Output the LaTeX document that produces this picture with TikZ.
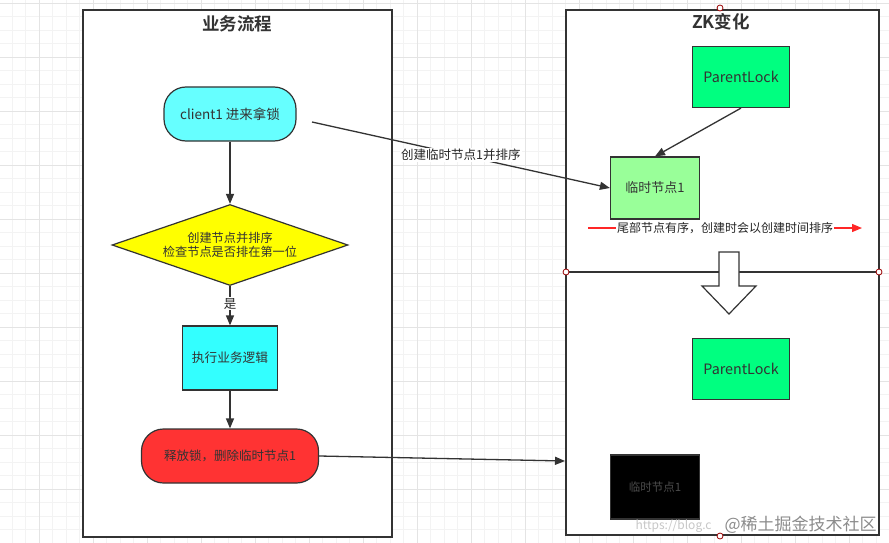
\documentclass[tikz,border=0pt]{standalone}
\usepackage{fontspec}
\setmainfont{Noto Sans CJK SC}
\newfontfamily\cjkb[BoldFont={Noto Sans CJK SC Bold}]{Noto Sans CJK SC}
\usetikzlibrary{shapes.geometric,arrows.meta}
\definecolor{edge}{HTML}{333333}
\definecolor{gridminor}{HTML}{F3F3F3}
\definecolor{gridmajor}{HTML}{E4E4E4}
\definecolor{cyanA}{HTML}{66FFFF}
\definecolor{cyanB}{HTML}{33FFFF}
\definecolor{redA}{HTML}{FF3333}
\definecolor{greenA}{HTML}{00FF80}
\definecolor{greenB}{HTML}{99FF99}
\definecolor{yel}{HTML}{FFFF00}
\tikzset{
  panel/.style={draw=edge, line width=1.4pt, fill=white},
  boxn/.style={draw=edge, line width=1.2pt, minimum width=#1, align=center, font=\fontsize{12}{15}\selectfont, text=edge},
  boxn/.default=90pt,
  conn/.style={draw=edge, line width=1.3pt, -{Triangle[length=10pt,width=8pt]}},
  lbl/.style={font=\fontsize{12.5}{14}\selectfont, text=black!85, fill=white, inner sep=1pt},
  handle/.style={draw=red!60!black, fill=white, line width=0.8pt, circle, inner sep=0pt, minimum size=6pt},
}
\begin{document}
\begin{tikzpicture}[x=1pt,y=-1pt]
\useasboundingbox (0,0) rectangle (889,543);
\fill[white] (0,0) rectangle (889,543);
% grid
\foreach \i in {0,...,66} {\draw[gridminor, line width=0.5pt] (\i*13.5-1.5,0) -- (\i*13.5-1.5,543);}
\foreach \i in {0,...,41} {\draw[gridminor, line width=0.5pt] (0,\i*13.5+3) -- (889,\i*13.5+3);}
\foreach \i in {0,...,16} {\draw[gridmajor, line width=0.7pt] (\i*54+39,0) -- (\i*54+39,543);}
\foreach \i in {0,...,10} {\draw[gridmajor, line width=0.7pt] (0,\i*54+3) -- (889,\i*54+3);}
% panels
\draw[panel] (83,10) rectangle (392,537);
\draw[panel] (566,10) rectangle (879,535);
\draw[edge, line width=1.4pt] (566,272) -- (879,272);
\node[font=\cjkb\bfseries\fontsize{17.5}{19}\selectfont, text=edge] (t1) at (237,24) {业务流程};
\node[font=\cjkb\bfseries\fontsize{17.5}{19}\selectfont, text=edge] (t2) at (721,22) {ZK变化};
% left flow
\node[boxn=132pt, minimum height=54pt, rounded corners=22pt, fill=cyanA, font=\fontsize{13.5}{15}\selectfont] (c1) at (230,114) {client1 进来拿锁};
\node[draw=edge, line width=1.2pt, diamond, fill=yel, minimum width=236pt, minimum height=81pt, aspect=2.9, inner sep=0pt, align=center, font=\fontsize{12.2}{14.5}\selectfont, text=edge] (d1) at (230,245) {创建节点并排序\\检查节点是否排在第一位};
\node[boxn=95pt, minimum height=64pt, fill=cyanB, font=\fontsize{12.7}{14}\selectfont] (e1) at (230,358) {执行业务逻辑};
\node[boxn=177pt, minimum height=54pt, rounded corners=22pt, fill=redA, font=\fontsize{12.5}{14}\selectfont] (r1) at (230,456) {释放锁，删除临时节点1};
\draw[conn] (c1) -- (d1.north);
\draw[conn] (d1.south) -- node[lbl, pos=0.45]{是} (e1);
\draw[conn] (e1) -- (r1);
% right top
\node[boxn=97pt, minimum height=61pt, fill=greenA, font=\fontsize{14.3}{16}\selectfont] (p1) at (741,77) {ParentLock};
\node[boxn=89pt, minimum height=62pt, fill=greenB, font=\fontsize{13}{15}\selectfont] (n1) at (655,188) {临时节点1};
\draw[conn] (p1.south) -- (n1.north);
\coordinate (s1) at (312,122);
\draw[conn] (s1) -- node[lbl, pos=0.5]{创建临时节点1并排序} (n1.west |- 0,188);
\coordinate (ra) at (588,228);
\coordinate (rb) at (862,228);
\draw[red!85!white, line width=1.3pt, -{Triangle[length=10pt,width=8pt]}] (ra) -- node[lbl, pos=0.5, font=\fontsize{12}{14}\selectfont]{尾部节点有序，创建时会以创建时间排序} (rb);
% block arrow
\draw[edge, line width=1.2pt, fill=white] (719,252) -- (739,252) -- (739,286) -- (756,286) -- (729,314) -- (702,286) -- (719,286) -- cycle;
% right bottom
\node[boxn=97pt, minimum height=61pt, fill=greenA, font=\fontsize{14.3}{16}\selectfont] (p2) at (741,369) {ParentLock};
\node[boxn=89pt, minimum height=64pt, fill=black, text=black!70, font=\fontsize{11.5}{13}\selectfont] (n2) at (655,487) {临时节点1};
\coordinate (z1) at (565,461);
\draw[conn] (r1.east) -- (z1);
% handles
\node[handle] (h1) at (720,8) {};
\node[handle] (h2) at (566,272) {};
\node[handle] (h3) at (879,272) {};
\node[handle] (h4) at (720,536) {};
% watermark
\node[text=black!22, font=\fontsize{12}{14}\selectfont, anchor=west] (w1) at (632,526) {https://blog.c};
\node[text=black!45, font=\fontsize{17}{18}\selectfont, anchor=west] (w2) at (721,525) {@稀土掘金技术社区};
\end{tikzpicture}
\end{document}
